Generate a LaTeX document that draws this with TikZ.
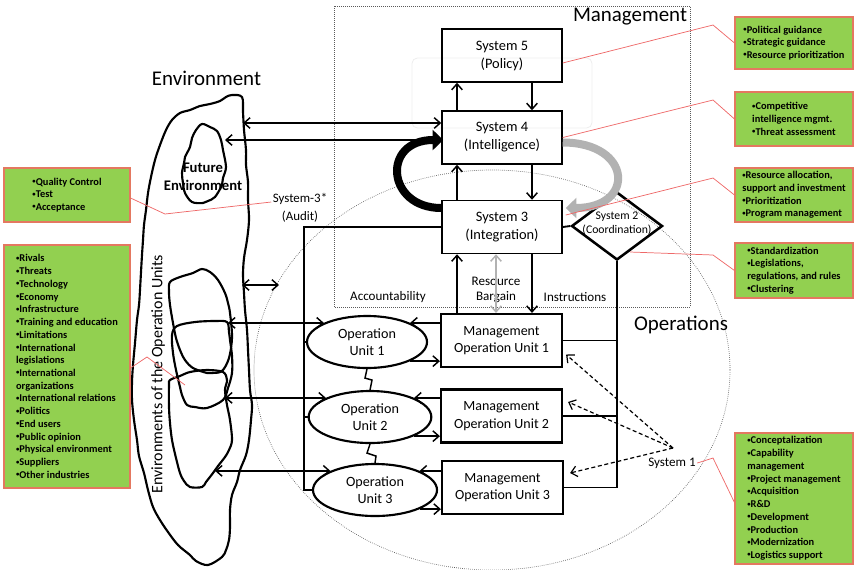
\documentclass[tikz,border=0pt]{standalone}
\usepackage{fontspec}
\setmainfont{Carlito}
\usetikzlibrary{arrows.meta,calc,shapes.geometric}
\definecolor{gfill}{RGB}{146,208,80}
\definecolor{gborder}{RGB}{228,120,96}
\definecolor{redline}{RGB}{238,105,105}
\definecolor{garrow}{RGB}{178,178,178}
\definecolor{dotgray}{RGB}{90,90,90}
\newcommand{\bul}{{\fontsize{5}{5}\selectfont\raisebox{1.2pt}{•}}}
\begin{document}
\begin{tikzpicture}[x=0.75pt,y=-0.75pt,
  >={Straight Barb[length=4.5pt,width=8pt]},
  sysbox/.style={draw, line width=1.1pt, minimum width=90pt, minimum height=39.75pt, align=center, inner sep=1pt, font=\fontsize{10.8}{13.5}\selectfont},
  moubox/.style={draw, line width=1.6pt, minimum width=90.75pt, minimum height=39.75pt, align=center, inner sep=1pt, font=\fontsize{10.5}{13.3}\selectfont},
  opunit/.style={draw, ellipse, line width=1.6pt, minimum height=39pt, inner sep=0pt, align=center, font=\fontsize{10.6}{13}\selectfont},
  gbox/.style={draw=gborder, fill=gfill, line width=0.8pt, align=left, inner sep=0pt, minimum width=88.5pt, font=\fontsize{7.8}{9.55}\selectfont\bfseries},
  arr/.style={line width=1.1pt, ->},
  dblarr/.style={line width=1.1pt, <->},
  darr/.style={line width=0.9pt, ->, dash pattern=on 3pt off 2pt},
  conn/.style={line width=1.4pt},
  redl/.style={redline, line width=0.55pt},
  blob/.style={line width=1.6pt, line join=round},
  lbl/.style={font=\fontsize{9.8}{11.25}\selectfont, inner sep=1pt, align=center},
  bigtext/.style={font=\fontsize{15.7}{18}\selectfont, inner sep=0pt}
]
\useasboundingbox (0,0) rectangle (855,569);

% faint frame and dotted regions
\draw[gray!14, line width=0.6pt, rounded corners=4pt] (412,58) rectangle (592,128);
\draw[dotgray, line width=0.5pt, densely dotted] (334,6) rectangle (690,307);
\draw[dotgray, line width=0.5pt, densely dotted] (492,370) ellipse [x radius=238, y radius=200];

% environment blobs
\draw[blob] plot[smooth cycle, tension=0.55] coordinates {(242,97) (243,112) (244,130) (246,150) (246,165) (248,182) (248,200) (249,220) (247,240) (244,258) (243,275) (244,293) (245,310) (247,330) (248,350) (249,370) (250,390) (252,405) (251,420) (249,440) (246,455) (240,470) (237,482) (232,495) (230,510) (230,527) (229,540) (226,550) (222,557) (208,565) (196,561) (190,555) (178,545) (168,532) (160,520) (153,507) (148,490) (144,473) (139,456) (137,440) (134,420) (132,400) (132,382) (133,365) (135,343) (137,320) (139,305) (140,290) (141,272) (142,255) (143,240) (144,225) (146,210) (148,193) (151,177) (155,160) (160,145) (166,130) (172,120) (180,113) (190,110) (200,106) (210,104) (220,101) (226,97) (232,95)};
\draw[blob] plot[smooth cycle, tension=0.55] coordinates {(202,124) (210,127) (217,131) (221,140) (223,150) (226,167) (223,178) (222,185) (215,197) (208,201) (203,203) (192,202) (185,193) (183,183) (182,173) (184,163) (185,157) (190,147) (192,138) (196,130)};
\draw[blob] plot[smooth cycle, tension=0.55] coordinates {(170,282) (180,277) (193,273) (202,269) (210,272) (218,280) (225,293) (228,303) (230,313) (232,337) (229,358) (222,371) (212,373) (207,373) (193,368) (185,360) (180,350) (176,338) (173,323) (170,305) (169,292)};
\draw[blob] plot[smooth cycle, tension=0.55] coordinates {(177,326) (195,322) (215,321) (227,322) (229,332) (230,340) (232,356) (232,373) (228,388) (223,400) (207,408) (195,407) (187,405) (182,395) (180,387) (176,370) (173,353) (172,335)};
\draw[blob] plot[smooth cycle, tension=0.55] coordinates {(170,380) (180,376) (190,372) (207,370) (223,372) (227,380) (225,390) (227,405) (230,420) (232,440) (229,450) (225,457) (218,466) (213,473) (206,482) (202,487) (190,487) (184,481) (180,473) (176,458) (172,440) (170,423) (169,407) (169,385)};

% titles
\node[bigtext] (tenv) at (206.5,78) {Environment};
\node[bigtext] (tman) at (630,17) {Management};
\node[bigtext] (tops) at (681,325) {Operations};
\node[font=\fontsize{11}{13.5}\selectfont\bfseries, align=center, inner sep=0pt] (fut) at (203,177) {Future\\Environment};
\node[font=\fontsize{12}{14}\selectfont, rotate=90, inner sep=0pt] (envou) at (158,374) {Environments of the Operation Units};

% systems
\node[sysbox] (s5) at (502,55.5) {System 5\\(Policy)};
\node[sysbox] (s4) at (502,137.5) {System 4\\(Intelligence)};
\node[sysbox] (s3) at (502,227) {System 3\\(Integration)};
\node[diamond, draw, line width=1.9pt, minimum width=68.25pt, minimum height=51pt, inner sep=0pt] (s2) at (617,226) {};
\node[font=\fontsize{8.8}{9.8}\selectfont, align=center, inner sep=0pt] (s2t) at (617,223.5) {System 2\\(Coordination)};

% operations
\node[moubox] (mou1) at (501.5,340.5) {Management\\Operation Unit 1};
\node[moubox] (mou2) at (501.5,416) {Management\\Operation Unit 2};
\node[moubox] (mou3) at (502.5,487.5) {Management\\Operation Unit 3};
\node[opunit, minimum width=90pt] (ou1) at (367,342) {Operation\\Unit 1};
\node[opunit, minimum width=92pt] (ou2) at (370,417) {Operation\\Unit 2};
\node[opunit, minimum width=93pt] (ou3) at (375,490) {Operation\\Unit 3};

% labels
\node[lbl] (acc) at (388,297) {Accountability};
\node[lbl] (rb) at (496,289.5) {Resource\\Bargain};
\node[lbl] (ins) at (575,297) {Instructions};
\node[lbl, font=\fontsize{9.7}{13.5}\selectfont] (audit) at (300,208) {System-3*\\(Audit)};
\node[lbl] (sys1) at (672,463) {System 1};

% vertical arrows between systems
\draw[arr] ($(s4.north)+(-45,0)$) -- ($(s5.south)+(-45,0)$);
\draw[arr] ($(s5.south)+(30,0)$) -- ($(s4.north)+(30,0)$);
\draw[arr] ($(s3.north)+(-45,0)$) -- ($(s4.south)+(-45,0)$);
\draw[arr] ($(s4.south)+(30,0)$) -- ($(s3.north)+(30,0)$);
\draw[arr] ($(mou1.north)+(-44.5,0)$) -- ($(s3.south)+(-45,0)$);
\draw[garrow, line width=1.1pt, <->] ($(s3.south)+(-6,0)$) -- ($(mou1.north)+(-5.5,0)$);
\draw[arr] ($(s3.south)+(30,0)$) -- ($(mou1.north)+(30.5,0)$);

% big curved arrows
\draw[garrow, line width=6pt, -{Triangle[length=8pt,width=15pt]}] ($(s4.east)+(0,5)$) .. controls +(70,0) and +(70,0) .. ($(s3.east)+(3,-19)$);
\draw[black, line width=6pt, -{Triangle[length=8pt,width=15pt]}] ($(s3.west)+(0,-19)$) .. controls +(-55,0) and +(-62,0) .. ($(s4.west)+(2,2.5)$);

% coordination connections
\draw[conn] (s3.east) -- (s2.west);
\draw[conn] (s2.south) |- (mou3.east);
\draw[conn] (mou1.east) -- (mou1.east -| s2.south);
\draw[conn] (mou2.east) -- (mou2.east -| s2.south);

% accountability trunk
\coordinate (trunk) at (304,228);
\draw[conn] (s3.west) -- (s3.west -| trunk) |- (ou3.west);
\draw[conn] (ou2.west -| trunk) -- (ou2.west);
\draw[conn] (ou1.west -| trunk) -- (ou1.west);

% unit <-> management arrows
\draw[arr] (ou1.north east -| mou1.west) -- (ou1.north east);
\draw[arr] (ou1.south east) -- (ou1.south east -| mou1.west);
\draw[arr] (ou2.north east -| mou2.west) -- (ou2.north east);
\draw[arr] (ou2.south east) -- (ou2.south east -| mou2.west);
\draw[arr] (ou3.north east -| mou3.west) -- (ou3.north east);
\draw[arr] (ou3.south east) -- (ou3.south east -| mou3.west);

% zigzags
\draw[line width=1.1pt] (ou1.south) -- ++(-2,9) -- ++(7,2) -- (ou2.north);
\draw[line width=1.1pt] (ou2.south) -- ++(-3,9) -- ++(9,3) -- (ou3.north);

% environment arrows
\coordinate (eo1) at (228,323);
\coordinate (eo2) at (225,399);
\coordinate (eo3) at (215,472);
\draw[dblarr] (eo1 |- ou1.north west) -- (ou1.north west);
\draw[dblarr] (eo2 |- ou2.north west) -- (ou2.north west);
\draw[dblarr] (eo3 |- ou3.north west) -- (ou3.north west);
\coordinate (eb) at (242,285);
\coordinate (ob) at (279,285);
\draw[dblarr] (eb) -- (ob);
\coordinate (et1) at (243,123);
\coordinate (et2) at (225,140);
\draw[dblarr] (et1) -- (et1 -| s4.west);
\draw[arr] (et2 -| s4.west) -- (et2);

% system 1 dashed arrows
\coordinate (s1p) at (673,448);
\draw[darr] (s1p) -- ($(mou1.east)+(3,14)$);
\draw[darr] (s1p) -- ($(mou2.east)+(5,-14)$);
\draw[darr] (s1p) -- ($(mou3.east)+(6,-14.5)$);

% green boxes
\node[gbox, minimum height=39pt] (g1) at (794,43) {\bul Political guidance\\\bul Strategic guidance\\\bul Resource prioritization};
\node[gbox, minimum height=40.5pt] (g2) at (794,119) {\bul Competitive\\intelligence mgmt.\\\bul Threat assessment};
\node[gbox, minimum height=40.5pt] (g3) at (794,195) {\bul Resource allocation,\\support and investment\\\bul Prioritization\\\bul Program management};
\node[gbox, minimum height=41.25pt] (g4) at (794,270.5) {\bul Standardization\\\bul Legislations,\\regulations, and rules\\\bul Clustering};
\node[gbox, minimum height=98.25pt] (g5) at (794,498.5) {\bul Conceptalization\\\bul Capability\\management\\\bul Project management\\\bul Acquisition\\\bul R\&D\\\bul Development\\\bul Production\\\bul Modernization\\\bul Logistics support};
\node[gbox, minimum width=94.5pt, minimum height=40.5pt] (gqc) at (67,195) {\bul Quality Control\\\bul Test\\\bul Acceptance};
\node[gbox, minimum width=94.5pt, minimum height=182.25pt] (genv) at (67,366.5) {\bul Rivals\\\bul Threats\\\bul Technology\\\bul Economy\\\bul Infrastructure\\\bul Training and education\\\bul Limitations\\\bul International\\legislations\\\bul International\\organizations\\\bul International relations\\\bul Politics\\\bul End users\\\bul Public opinion\\\bul Physical environment\\\bul Suppliers\\\bul Other industries};

% red callout lines
\draw[redl] ($(s5.east)+(0,7.5)$) -- (713,25) -- (g1.west);
\draw[redl] (s4.east) -- (713,100) -- (g2.west);
\draw[redl] ($(s3.east)+(3,-12)$) -- (713,178) -- (g3.west);
\draw[redl] (630,252) -- (713,255) -- (g4.west);
\draw[redl] (sys1.east) -- (713,458) -- ($(g5.west)+(0,4)$);
\draw[redl] ($(gqc.east)+(0,3)$) -- (165,214) -- ($(audit.west)+(0,-6)$);
\draw[redl] ($(genv.east)+(0,1.5)$) -- (147,357) -- (185,385);
\end{tikzpicture}
\end{document}
